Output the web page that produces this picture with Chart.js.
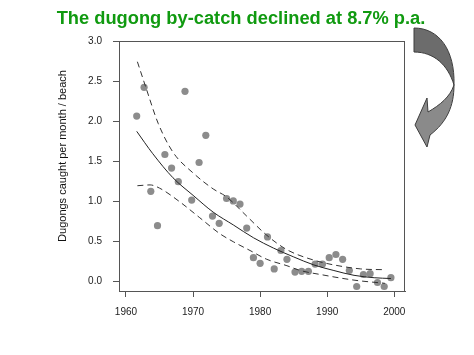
<!DOCTYPE html>
<html>
<head>
<meta charset="utf-8">
<script src="https://cdn.jsdelivr.net/npm/chart.js@4"></script>
<style>
html,body{margin:0;padding:0;background:#fff;}
canvas{display:block;}
</style>
</head>
<body>
<canvas id="c" width="474" height="355"></canvas>
<script>
// ---- data ----
const titleText = "The dugong by-catch declined at 8.7% p.a.";
const yAxisTitle = "Dugongs caught per month / beach";

const obsYears = [1961.6,1962.7,1963.7,1964.7,1965.8,1966.8,1967.8,1968.8,1969.8,1970.9,
  1971.9,1972.9,1973.9,1975.0,1976.0,1977.0,1978.0,1979.0,1980.0,1981.1,
  1982.1,1983.1,1984.0,1985.2,1986.2,1987.2,1988.2,1989.3,1990.3,1991.3,
  1992.3,1993.3,1994.4,1995.4,1996.4,1997.5,1998.5,1999.5];
const obsCatch = [2.07,2.43,1.13,0.70,1.59,1.42,1.25,2.38,1.02,1.49,
  1.83,0.82,0.73,1.04,1.01,0.97,0.67,0.30,0.23,0.56,
  0.16,0.39,0.28,0.12,0.13,0.13,0.22,0.22,0.30,0.34,
  0.28,0.14,-0.06,0.09,0.10,-0.01,-0.06,0.05];

const fitYears = [1961.6,1964,1967,1970,1973,1976,1979,1982,1985,1988,1991,1994,1997,1999.5];
const fitCatch = [1.88,1.60,1.30,1.08,0.87,0.71,0.55,0.42,0.31,0.21,0.14,0.08,0.05,0.04];

const upperYears = [1961.7,1963,1964.8,1967,1970,1973,1975,1978,1981,1984,1988,1991,1995,1998.6];
const upperCatch = [2.75,2.42,1.98,1.62,1.36,1.16,1.06,0.82,0.58,0.40,0.27,0.21,0.16,0.15];

const lowerYears = [1961.7,1963.6,1965,1968,1971,1974,1976,1978.5,1981,1984,1986,1989,1994,1998.6];
const lowerCatch = [1.20,1.21,1.17,1.00,0.80,0.60,0.50,0.39,0.28,0.20,0.14,0.09,0.02,-0.02];

const xTicks = [1960,1970,1980,1990,2000];
const yTicks = [0,0.5,1.0,1.5,2.0,2.5,3.0];

const pts = (xs, ys) => xs.map((x,i)=>({x:x, y:ys[i]}));

const FONT = "'Liberation Sans', Arial, Helvetica, sans-serif";

const decor = {
  id:'decor',
  afterDraw(chart){
    const ctx = chart.ctx, a = chart.chartArea;
    ctx.save();
    // plot box
    ctx.strokeStyle = '#555';
    ctx.lineWidth = 1;
    ctx.strokeRect(a.left+0.5, a.top+0.5, a.right-a.left-1, a.bottom-a.top);
    // title
    ctx.fillStyle = '#109a10';
    ctx.font = "bold 18.3px " + FONT;
    ctx.textAlign = 'center';
    ctx.textBaseline = 'alphabetic';
    ctx.fillText(titleText, 241, 24);
    // y axis title
    ctx.save();
    ctx.translate(63, 156);
    ctx.rotate(-Math.PI/2);
    ctx.fillStyle = '#111';
    ctx.font = "11px " + FONT;
    ctx.textAlign = 'center';
    ctx.textBaseline = 'middle';
    ctx.fillText(yAxisTitle, 0, 0);
    ctx.restore();
    // curved arrow (decoration)
    ctx.lineWidth = 1;
    ctx.strokeStyle = '#3c3c3c';
    ctx.fillStyle = '#6c6c6c';
    ctx.beginPath();
    ctx.moveTo(414,28);
    ctx.bezierCurveTo(439,28,455,50,454,85);
    ctx.bezierCurveTo(448,65,434,52,414,52);
    ctx.closePath();
    ctx.fill(); ctx.stroke();
    ctx.fillStyle = '#8a8a8a';
    ctx.beginPath();
    ctx.moveTo(454,85);
    ctx.bezierCurveTo(454,106,447,122,430,135);
    ctx.lineTo(427,147);
    ctx.lineTo(415,125);
    ctx.lineTo(427,98);
    ctx.lineTo(428,112);
    ctx.bezierCurveTo(440,105,450,97,454,85);
    ctx.closePath();
    ctx.fill(); ctx.stroke();
    ctx.restore();
  }
};

new Chart(document.getElementById('c'), {
  data: {
    datasets: [
      { type:'line', label:'fit', data: pts(fitYears, fitCatch), borderColor:'#222', borderWidth:1,
        pointRadius:0, cubicInterpolationMode:'monotone', fill:false, order:1 },
      { type:'line', label:'upper', data: pts(upperYears, upperCatch), borderColor:'#333', borderWidth:1,
        borderDash:[6,4], pointRadius:0, cubicInterpolationMode:'monotone', fill:false, order:1 },
      { type:'line', label:'lower', data: pts(lowerYears, lowerCatch), borderColor:'#333', borderWidth:1,
        borderDash:[6,4], pointRadius:0, cubicInterpolationMode:'monotone', fill:false, order:1 },
      { type:'scatter', label:'observed', data: pts(obsYears, obsCatch), backgroundColor:'#8c8c8c',
        borderWidth:0, pointRadius:3.6, order:2 }
    ]
  },
  options: {
    responsive:false,
    animation:false,
    devicePixelRatio:1,
    layout:{ padding:{ left:0, right:69, top:41, bottom:0 } },
    plugins:{ legend:{display:false}, tooltip:{enabled:false}, title:{display:false} },
    scales:{
      x:{
        type:'linear', min:1958.96, max:2001.6,
        afterBuildTicks(s){ s.ticks = xTicks.map(v=>({value:v})); },
        afterFit(s){ s.height = 64; },
        grid:{ drawOnChartArea:false, drawTicks:true, tickLength:6, color:'#555' },
        border:{ display:true, color:'#555' },
        ticks:{ color:'#222', font:{family:FONT, size:10}, padding:9, maxRotation:0,
          callback:v=>String(v) }
      },
      y:{
        type:'linear', min:-0.116, max:3.009,
        afterBuildTicks(s){ s.ticks = yTicks.map(v=>({value:v})); },
        afterFit(s){ s.width = 119; },
        grid:{ drawOnChartArea:false, drawTicks:true, tickLength:6, color:'#555' },
        border:{ display:true, color:'#555' },
        ticks:{ color:'#222', font:{family:FONT, size:10}, padding:11,
          callback:v=>Number(v).toFixed(1) },
        title:{ display:false }
      }
    }
  },
  plugins:[decor]
});
</script>
</body>
</html>
